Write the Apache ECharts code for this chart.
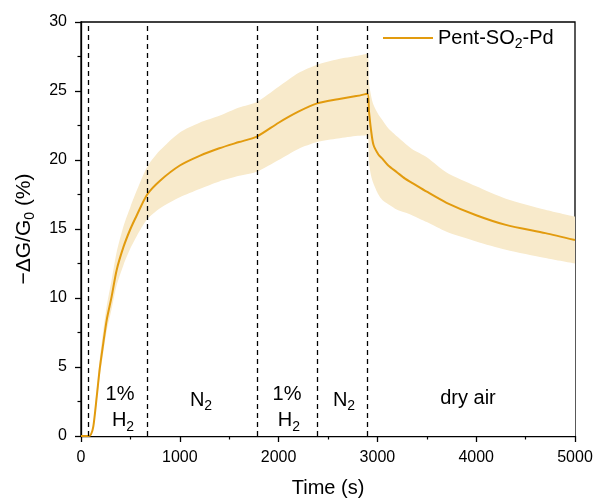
<!DOCTYPE html>
<html>
<head>
<meta charset="utf-8">
<script src="https://cdn.jsdelivr.net/npm/echarts@6/dist/echarts.min.js"></script>
<style>
  html, body { margin: 0; padding: 0; background: #fff; }
  #chart { width: 597px; height: 501px; }
</style>
</head>
<body>
<div id="chart"></div>
<script>
// Response of Pent-SO2-Pd: mean response with its spread band
const timeS = [0, 75, 100, 125, 160, 190, 225, 260, 310, 360, 430, 500, 565, 670, 800, 1000,
  1200, 1400, 1600, 1780, 2000, 2200, 2390, 2600, 2800, 2900, 2915, 2935, 2960, 3010, 3050,
  3110, 3200, 3280, 3350, 3500, 3700, 4000, 4300, 4700, 5000];
const meanResp = [0, 0, 0.1, 0.7, 2.9, 4.9, 6.7, 8.4, 10.1, 12.0, 13.7, 15.0, 16.0, 17.5, 18.5, 19.6,
  20.3, 20.85, 21.3, 21.7, 22.7, 23.5, 24.1, 24.4, 24.65, 24.8, 23.5, 22.2, 21.1, 20.4, 20.1,
  19.6, 19.1, 18.65, 18.35, 17.7, 16.9, 16.0, 15.3, 14.7, 14.2];
const upperResp = [0, 0, 0.2, 1.0, 3.4, 5.6, 7.6, 9.4, 11.3, 13.3, 15.2, 16.6, 17.8, 19.5, 20.7, 22.0,
  22.7, 23.2, 23.8, 24.2, 25.3, 26.3, 26.9, 27.3, 27.55, 27.7, 25.6, 24.7, 24.0, 23.3, 22.9,
  22.3, 21.7, 21.2, 20.8, 20.2, 19.1, 18.1, 17.2, 16.4, 15.9];
const lowerResp = [0, 0, 0.05, 0.5, 2.5, 4.3, 6.0, 7.6, 9.2, 10.9, 12.4, 13.6, 14.5, 15.7, 16.5, 17.3,
  17.9, 18.45, 18.85, 19.15, 20.0, 20.8, 21.3, 21.55, 21.75, 21.8, 19.8, 18.9, 18.3, 17.5, 17.1,
  16.8, 16.4, 16.2, 16.0, 15.5, 14.8, 14.1, 13.5, 12.9, 12.5];

// Gas switching times (s) and the phase labels between them
const switchTimes = [75, 670, 1780, 2390, 2900];
const phaseLabels = [
  { text: '1%', t: 395, v: 3.0 },
  { text: 'H{s|2}', t: 425, v: 1.1 },
  { text: 'N{s|2}', t: 1215, v: 2.6 },
  { text: '1%', t: 2085, v: 3.0 },
  { text: 'H{s|2}', t: 2105, v: 1.1 },
  { text: 'N{s|2}', t: 2662, v: 2.6 },
  { text: 'dry air', t: 3917, v: 2.75 }
];
const xTicks = { min: 0, max: 5000, interval: 1000 };
const yTicks = { min: 0, max: 30, interval: 5 };

const LINE_COLOR = '#E29B0E';
const BAND_COLOR = '#F8EACB';
const FONT = 'Liberation Sans, Arial, sans-serif';
const SMOOTH = 0.25;
const subStyle = { fontSize: 14, padding: [12, 0, 0, 0], fontFamily: FONT, color: '#000' };

const pairs = (ys) => timeS.map((t, i) => [t, ys[i]]);

const chart = echarts.init(document.getElementById('chart'), null, { renderer: 'canvas' });

const axisCommon = {
  axisLine: { show: true, lineStyle: { color: '#000', width: 1.3 } },
  axisTick: { show: true, inside: false, length: 6, lineStyle: { color: '#000', width: 1.3 } },
  minorTick: { show: true, splitNumber: 2, length: 3.5, lineStyle: { color: '#000', width: 1.2 } },
  splitLine: { show: false },
  axisLabel: { color: '#000', fontSize: 16, fontFamily: FONT, margin: 14, formatter: (v) => String(v) }
};

chart.setOption({
  animation: false,
  backgroundColor: '#fff',
  grid: {
    left: 81, right: 22, top: 22, bottom: 65,
    containLabel: false, outerBoundsMode: 'none',
    show: true, borderColor: '#000', borderWidth: 1.3, backgroundColor: 'transparent'
  },
  legend: {
    data: [{ name: 'Pent-SO2-Pd', icon: 'rect' }],
    left: 383, top: 28, padding: 0,
    itemWidth: 50, itemHeight: 2, itemGap: 6,
    formatter: () => 'Pent-SO{s|2}-Pd',
    textStyle: {
      fontSize: 20, fontFamily: FONT, color: '#000',
      rich: { s: subStyle }
    }
  },
  xAxis: Object.assign({
    type: 'value', min: xTicks.min, max: xTicks.max, interval: xTicks.interval,
    name: 'Time (s)', nameLocation: 'middle', nameGap: 42,
    nameTextStyle: { fontSize: 20, fontFamily: FONT, color: '#000' }
  }, axisCommon),
  yAxis: Object.assign({
    type: 'value', min: yTicks.min, max: yTicks.max, interval: yTicks.interval,
    name: '\u2212\u0394G/G{s|0} (%)', nameLocation: 'middle', nameGap: 44,
    nameTextStyle: { fontSize: 21, fontFamily: FONT, color: '#000', rich: { s: subStyle } }
  }, axisCommon),
  series: [
    {
      // upper edge of the spread, filled down to the axis
      name: 'bandUpper', type: 'line', data: pairs(upperResp),
      symbol: 'none', smooth: SMOOTH, lineStyle: { width: 0, opacity: 0 },
      areaStyle: { color: BAND_COLOR, opacity: 1, origin: 'start' }, silent: true, z: 1
    },
    {
      // lower edge of the spread, cleared back to white below it
      name: 'bandLower', type: 'line', data: pairs(lowerResp),
      symbol: 'none', smooth: SMOOTH, lineStyle: { width: 0, opacity: 0 },
      areaStyle: { color: '#fff', opacity: 1, origin: 'start' }, silent: true, z: 2
    },
    {
      name: 'Pent-SO2-Pd', type: 'line', data: pairs(meanResp),
      symbol: 'none', smooth: SMOOTH,
      lineStyle: { color: LINE_COLOR, width: 2 }, itemStyle: { color: LINE_COLOR },
      z: 3,
      markLine: {
        silent: true, symbol: ['none', 'none'], label: { show: false },
        lineStyle: { color: '#000', type: [5, 4], width: 1.3 },
        data: switchTimes.map((t) => ({ xAxis: t }))
      }
    }
  ]
});

// Phase annotations placed in data coordinates
chart.setOption({
  graphic: phaseLabels.map((p) => {
    const [px, py] = chart.convertToPixel({ gridIndex: 0 }, [p.t, p.v]);
    return {
      type: 'text', x: px, y: py, z: 10,
      style: {
        text: p.text, fill: '#000', fontSize: 20, fontFamily: FONT,
        align: 'center', verticalAlign: 'middle',
        rich: { s: subStyle }
      }
    };
  })
});
</script>
</body>
</html>
